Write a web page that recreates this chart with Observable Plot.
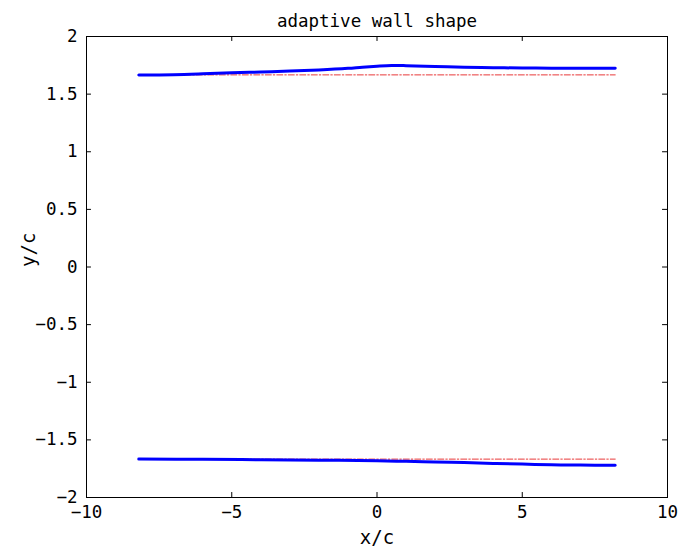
<!DOCTYPE html>
<html>
<head>
<meta charset="utf-8">
<script src="https://cdn.jsdelivr.net/npm/d3@7"></script>
<script src="https://cdn.jsdelivr.net/npm/@observablehq/plot@0.6"></script>
<style>
  html, body { margin: 0; padding: 0; background: #fff; }
  #chart svg { display: block; }
</style>
</head>
<body>
<div id="chart"></div>
<script>
// Upper adaptive wall (x/c, y/c)
const upperX = [-8.2, -7, -6, -5, -4, -3, -2, -1, -0.5, 0, 0.5, 1, 2, 3, 4, 5, 6, 7, 8.2];
const upperY = [1.667, 1.669, 1.676, 1.685, 1.692, 1.700, 1.710, 1.724, 1.734, 1.742, 1.748, 1.747, 1.740, 1.733, 1.729, 1.727, 1.725, 1.724, 1.724];

// Lower adaptive wall (x/c, y/c)
const lowerX = [-8.2, -6, -4, -2, 0, 1, 2, 3, 4, 5, 6, 7, 8.2];
const lowerY = [-1.667, -1.669, -1.672, -1.676, -1.682, -1.686, -1.691, -1.697, -1.704, -1.710, -1.716, -1.719, -1.720];

// Straight (unadapted) wall positions
const straightX = [-8.2, 8.2];
const straightY = [1.667, -1.667];

const xTicks = [-10, -5, 0, 5, 10];
const yTicks = [-2, -1.5, -1, -0.5, 0, 0.5, 1, 1.5, 2];

const upper = upperX.map((x, i) => ({x, y: upperY[i]}));
const lower = lowerX.map((x, i) => ({x, y: lowerY[i]}));
const straight = straightY.flatMap((y, k) => straightX.map(x => ({x, y, wall: k})));

const font = "'DejaVu Sans Mono', 'Liberation Mono', monospace";
const fmt = d => (d < 0 ? "\u2212" : "") + String(Math.abs(d));

const chart = Plot.plot({
  width: 681,
  height: 553,
  marginLeft: 86,
  marginRight: 14,
  marginTop: 36,
  marginBottom: 56,
  style: {fontFamily: font, fontSize: "17px", color: "#000", background: "#fff"},
  x: {domain: [-10, 10], ticks: xTicks, tickFormat: fmt, label: null},
  y: {domain: [-2, 2], ticks: yTicks, tickFormat: fmt, label: null},
  marks: [
    Plot.frame({stroke: "#000", strokeWidth: 1}),
    // inward ticks on all four sides
    Plot.ruleX(xTicks, {x: d => d, y1: -2, y2: -1.957, stroke: "#000"}),
    Plot.ruleX(xTicks, {x: d => d, y1: 2, y2: 1.957, stroke: "#000"}),
    Plot.ruleY(yTicks, {y: d => d, x1: -10, x2: -9.83, stroke: "#000"}),
    Plot.ruleY(yTicks, {y: d => d, x1: 10, x2: 9.83, stroke: "#000"}),
    Plot.axisX(xTicks, {tickSize: 0, tickPadding: 8, tickFormat: fmt, fontSize: 17.5, label: null}),
    Plot.axisY(yTicks, {tickSize: 0, tickPadding: 9, tickFormat: fmt, fontSize: 17.5, label: null}),
    Plot.line(straight, {x: "x", y: "y", z: "wall", stroke: "#e8393a", strokeWidth: 1, strokeDasharray: "6,2,1.5,2"}),
    Plot.line(upper, {x: "x", y: "y", stroke: "#0000ff", strokeWidth: 3, curve: "catmull-rom"}),
    Plot.line(lower, {x: "x", y: "y", stroke: "#0000ff", strokeWidth: 3, curve: "catmull-rom"}),
    Plot.text(["adaptive wall shape"], {frameAnchor: "top", dy: -22, fontSize: 17.5, fill: "#000"}),
    Plot.text(["x/c"], {frameAnchor: "bottom", dy: 46, fontSize: 19, fill: "#000"}),
    Plot.text(["y/c"], {frameAnchor: "left", dx: -58, rotate: -90, fontSize: 19, fill: "#000"})
  ]
});

document.getElementById("chart").append(chart);
</script>
</body>
</html>
